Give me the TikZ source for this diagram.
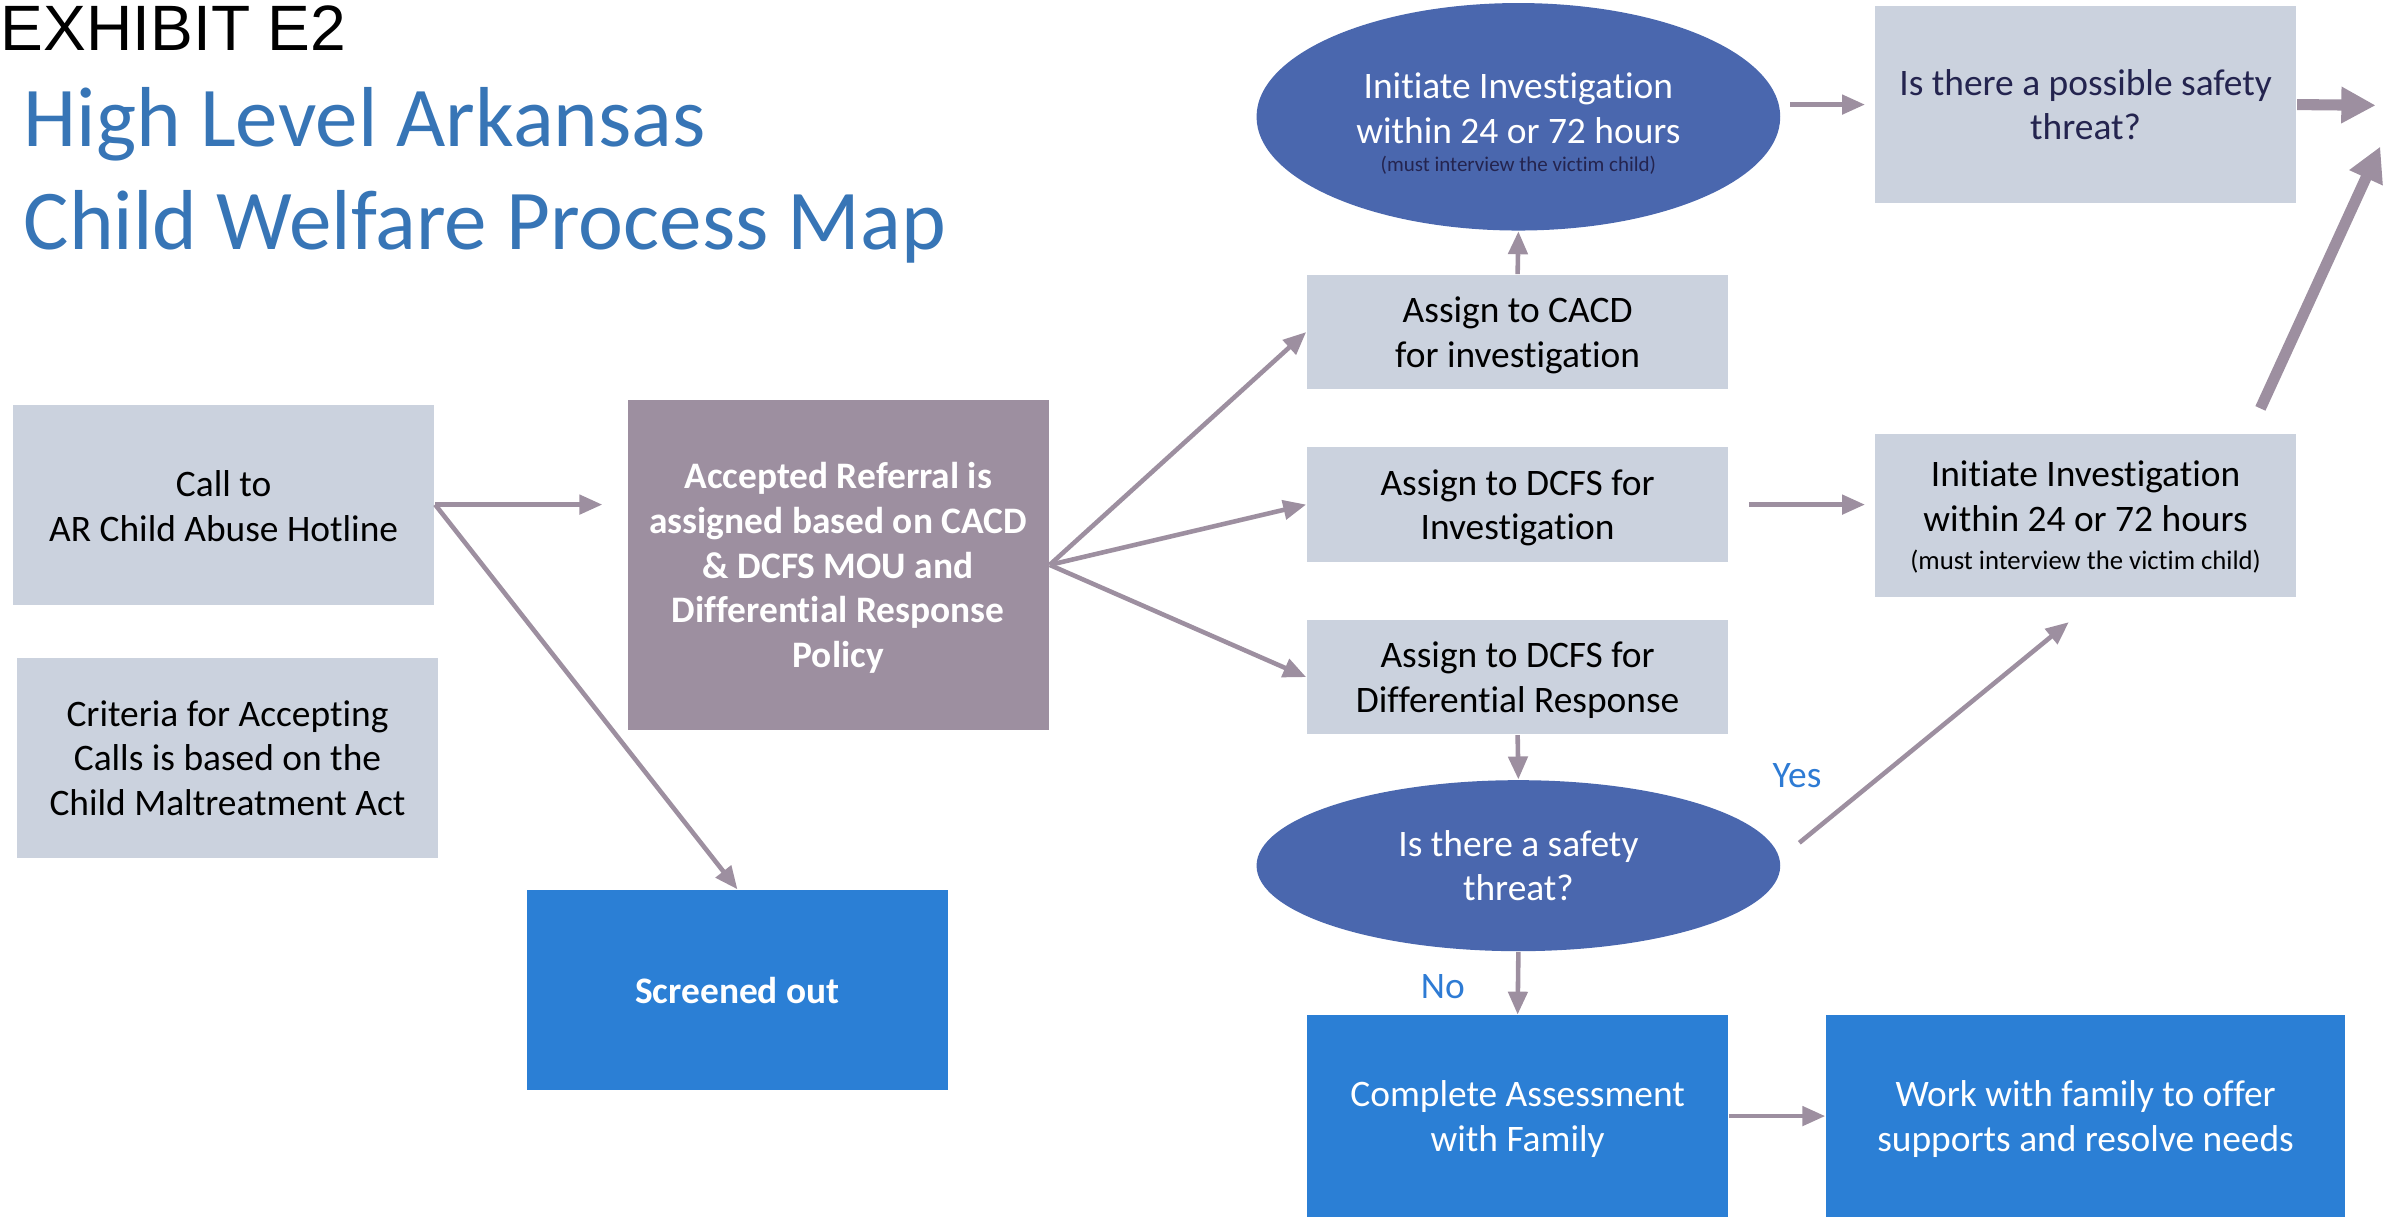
\documentclass[tikz,border=0pt]{standalone}
\usepackage{fontspec}
\setmainfont[Ligatures=NoCommon]{Carlito}
\newfontfamily\exhibitfont{Liberation Sans}
\usetikzlibrary{shapes.geometric,arrows.meta,calc}

\definecolor{boxgray}{HTML}{CBD2DE}
\definecolor{mauve}{HTML}{9D8FA0}
\definecolor{ovalblue}{HTML}{4A67AE}
\definecolor{stepblue}{HTML}{2B7FD5}
\definecolor{titleblue}{HTML}{3775B6}
\definecolor{labelblue}{HTML}{2E7BD4}
\definecolor{navytext}{HTML}{24244F}

\newcommand{\boxfont}{\fontsize{9.8}{11.7}\selectfont}

\begin{document}
\begin{tikzpicture}[x=0.4pt,y=-0.4pt,
  every node/.style={font=\boxfont, align=center, inner sep=0pt, text depth=0pt},
  graybox/.style={fill=boxgray, minimum width=110.4pt},
  bluebox/.style={fill=stepblue, text=white, minimum height=52.8pt},
  oval/.style={ellipse, fill=ovalblue, text=white, minimum width=137.2pt},
  arr/.style={draw=mauve, line width=1.2pt, -{Triangle[length=6pt,width=5pt]}},
  bigarr/.style={draw=mauve, line width=2.9pt, -{Triangle[length=9pt,width=9pt]}},
  lbl/.style={text=labelblue}]
\useasboundingbox (0,0) rectangle (1568,798);

\node[anchor=north west, font=\exhibitfont\fontsize{16.8}{19}\selectfont] (exhibit) at (0,3) {EXHIBIT E2};
\node[anchor=north west, align=left, text=titleblue, font=\fontsize{22.3}{27}\selectfont] (title) at (15,57) {High Level Arkansas\\Child Welfare Process Map};

\node[graybox, minimum height=52.4pt] (hotline) at (146.5,330.5) {\rule{0pt}{7.4pt}Call to\\AR Child Abuse Hotline};
\node[graybox, minimum height=52.4pt] (criteria) at (149,496.5) {Criteria for Accepting\\Calls is based on the\\Child Maltreatment Act};
\node[fill=mauve, text=white, minimum width=110.4pt, minimum height=86.4pt, font=\boxfont\bfseries] (referral) at (549,370) {Accepted Referral is\\assigned based on CACD\\\& DCFS MOU and\\Differential Response\\Policy};
\node[bluebox, minimum width=110.4pt, minimum height=52.4pt, font=\boxfont\bfseries] (screened) at (483,648.5) {Screened out};

\node[graybox, minimum height=30pt] (cacd) at (994,217.5) {Assign to CACD\\for investigation};
\node[graybox, minimum height=30pt] (dcfsinv) at (994,330.5) {Assign to DCFS for\\Investigation};
\node[graybox, minimum height=30pt] (dcfsdr) at (994,443.5) {Assign to DCFS for\\Differential Response};

\node[oval, minimum height=59.6pt] (invest) at (994.5,76.5) {\rule{0pt}{9.6pt}Initiate Investigation\\within 24 or 72 hours\\[-4.2pt]{\color{navytext}\fontsize{5.5}{6.6}\selectfont (must interview the victim child)}};
\node[graybox, minimum height=51.6pt, text=navytext] (possible) at (1366,68.5) {Is there a possible safety\\threat?};
\node[graybox, minimum height=42.8pt] (rinit) at (1366,337.5) {Initiate Investigation\\within 24 or 72 hours\\[-1.6pt]{\fontsize{7}{8.4}\selectfont (must interview the victim child)}};

\node[oval, minimum height=44.8pt] (safety) at (994.5,567) {Is there a safety\\threat?};
\node[bluebox, minimum width=110.4pt] (complete) at (994,731) {Complete Assessment\\with Family};
\node[bluebox, minimum width=136pt] (work) at (1366,731) {Work with family to offer\\supports and resolve needs};

\node[lbl] (yes) at (1177,508) {Yes};
\node[lbl] (no) at (945,646) {No};

\coordinate (out1) at (1556,69);
\coordinate (out2) at (1559,96);

\draw[arr, shorten >=6.4pt] (hotline.east) -- (referral.west |- hotline.east);
\draw[arr] (hotline.east) -- (screened.north);
\draw[arr] (referral.east) -- (cacd.west);
\draw[arr] (referral.east) -- (dcfsinv.west);
\draw[arr] (referral.east) -- (dcfsdr.west);
\draw[arr] (cacd.north) -- (invest.south);
\draw[arr, shorten <=5.2pt, shorten >=2.4pt] (dcfsinv.east) -- (dcfsinv.east -| rinit.west);
\draw[arr] (dcfsdr.south) -- (safety.north);
\draw[arr] ($(safety.east)+(12,-15)$) -- ($(rinit.south)+(-11,16)$);
\draw[arr] (safety.south) -- (complete.north);
\draw[arr] (complete.east) -- (work.west);
\draw[arr, shorten <=2.4pt, shorten >=2.4pt] (invest.east |- possible.west) -- (possible.west);

\draw[bigarr] (possible.east) -- (out1);
\draw[bigarr] ($(rinit.north east)+(-24,-16)$) -- (out2);
\end{tikzpicture}
\end{document}
